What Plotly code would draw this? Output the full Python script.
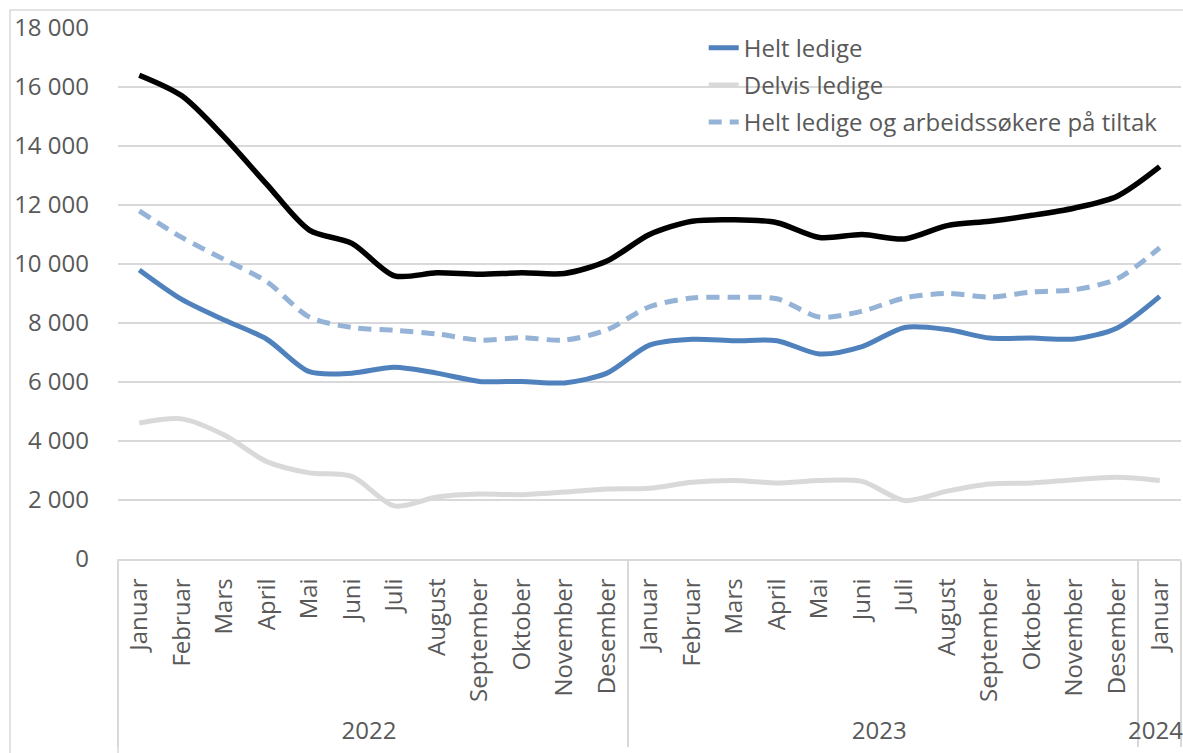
import plotly.graph_objects as go

months = ["Januar", "Februar", "Mars", "April", "Mai", "Juni", "Juli", "August",
          "September", "Oktober", "November", "Desember"] * 2 + ["Januar"]
years = ["2022"] * 12 + ["2023"] * 12 + ["2024"]

helt_ledige = [9800, 8800, 8100, 7450, 6350, 6300, 6500, 6300, 6020, 6020, 5970, 6300,
               7250, 7450, 7400, 7400, 6950, 7200, 7850, 7780, 7490, 7490, 7460, 7830, 8900]
delvis_ledige = [4610, 4750, 4200, 3300, 2920, 2800, 1800, 2100, 2200, 2180, 2270, 2370,
                 2400, 2600, 2660, 2580, 2660, 2630, 1980, 2300, 2540, 2580, 2690, 2770, 2660]
helt_og_tiltak = [11800, 10900, 10150, 9400, 8200, 7850, 7750, 7630, 7420, 7500, 7420, 7770,
                  8550, 8850, 8870, 8820, 8200, 8400, 8850, 9000, 8880, 9050, 9130, 9500, 10550]
totalt = [16400, 15700, 14300, 12700, 11150, 10700, 9600, 9700, 9650, 9700, 9680, 10100,
          11000, 11450, 11500, 11400, 10900, 11000, 10850, 11300, 11450, 11650, 11900, 12300, 13300]

FONT = "Open Sans"
TXT = "#595959"
GRID = "#d9d9d9"
x = [years, months]

fig = go.Figure()
fig.add_trace(go.Scatter(x=x, y=helt_ledige, name="Helt ledige", mode="lines",
                         line=dict(color="#4f81bd", width=5, shape="spline", smoothing=0.8),
                         legendgroup="a"))
fig.add_trace(go.Scatter(x=x, y=delvis_ledige, name="Delvis ledige", mode="lines",
                         line=dict(color="#d9d9d9", width=5, shape="spline", smoothing=0.8),
                         legendgroup="b"))
fig.add_trace(go.Scatter(x=x, y=helt_og_tiltak, name="Helt ledige og arbeidssøkere på tiltak",
                         mode="lines",
                         line=dict(color="#95b3d7", width=5, dash="13px,8px",
                                   shape="spline", smoothing=0.8),
                         legendgroup="c"))
fig.add_trace(go.Scatter(x=x, y=totalt, name="Helt ledige, delvis ledige og arbeidssøkere på tiltak",
                         mode="lines", showlegend=False,
                         line=dict(color="#000000", width=5.5, shape="spline", smoothing=0.8)))

fig.update_layout(
    width=1183, height=753,
    margin=dict(l=118, r=2, t=28, b=194, autoexpand=False),
    paper_bgcolor="white", plot_bgcolor="white",
    separators=", ",
    font=dict(family=FONT, size=24, color=TXT),
    legend=dict(x=0.551, y=0.966, xanchor="left", yanchor="top", yref="container",
                bgcolor="rgba(0,0,0,0)", tracegroupgap=3,
                font=dict(family=FONT, size=24, color=TXT)),
    xaxis=dict(type="multicategory", tickangle=-90, showgrid=False,
               range=[-0.5, 24.5], automargin=False, ticklabelstandoff=8,
               showline=True, linecolor=GRID, linewidth=1.5,
               showdividers=True, dividercolor=GRID, dividerwidth=1.5,
               ticks="", tickfont=dict(family=FONT, size=24, color=TXT)),
    yaxis=dict(range=[0, 18000], dtick=2000, tickformat=",d", automargin=False,
               showgrid=True, gridcolor=GRID, gridwidth=1.5,
               zeroline=False, showline=False, ticks="", ticklabelstandoff=28,
               tickfont=dict(family=FONT, size=24, color=TXT)),
    shapes=[
        dict(type="rect", xref="paper", yref="paper",
             x0=-108 / 1063, x1=1.05, y0=-0.45, y1=1 + 18 / 531,
             line=dict(color=GRID, width=1.5), layer="below"),
        dict(type="line", xref="paper", yref="paper",
             x0=0, x1=0, y0=0, y1=-0.4,
             line=dict(color=GRID, width=1.5), layer="below"),
    ],
)

fig.write_html("out.html", config={"displayModeBar": False},
               post_script="document.body.style.margin='0';")
